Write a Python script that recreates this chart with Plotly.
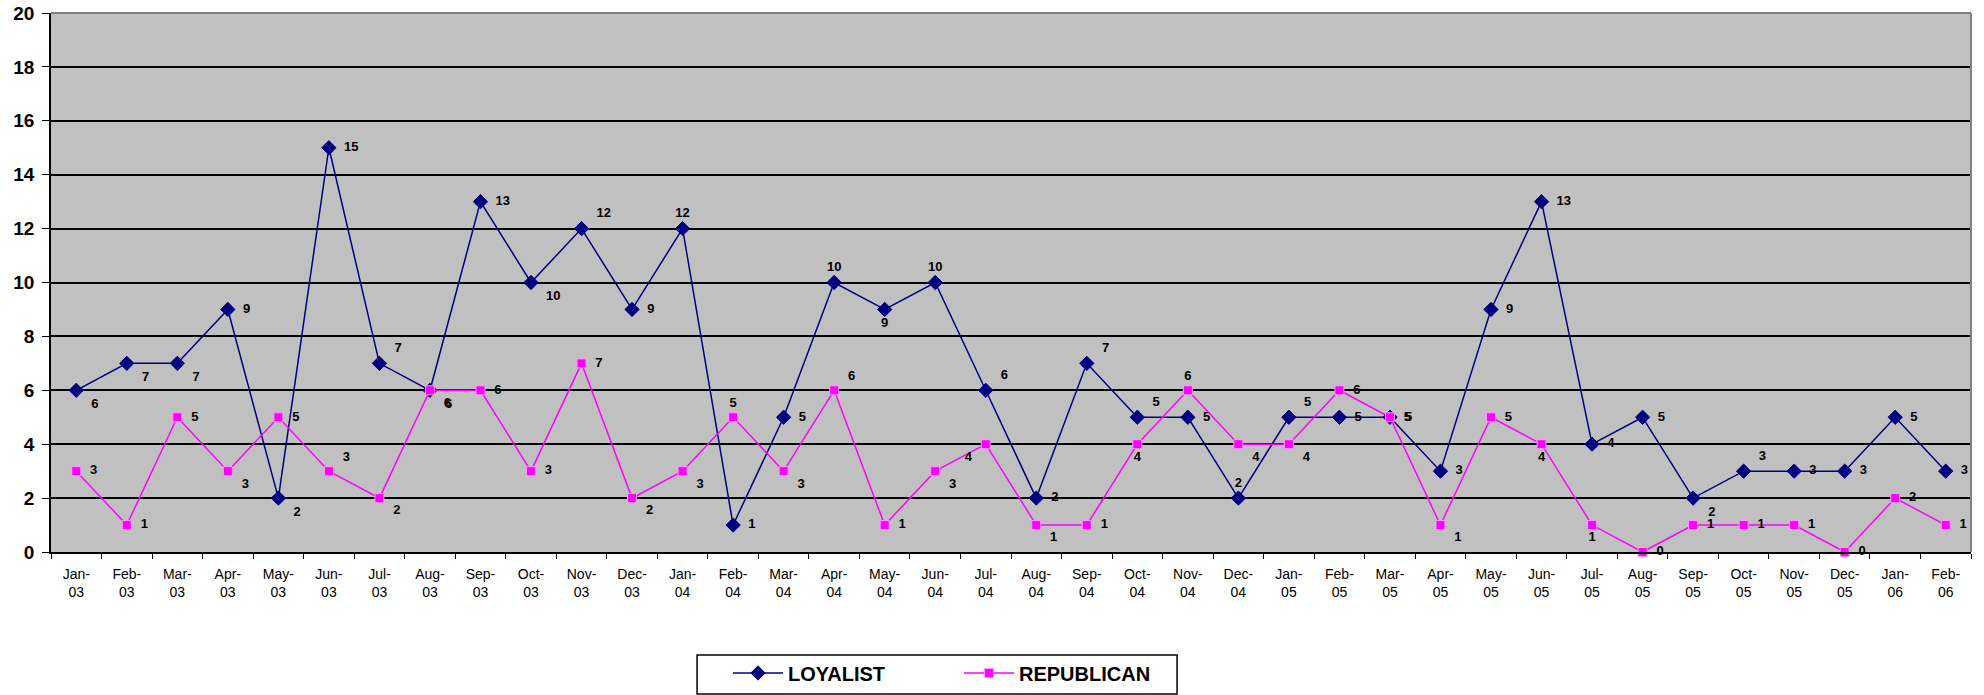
import plotly.graph_objects as go

months = ["Jan-<br>03", "Feb-<br>03", "Mar-<br>03", "Apr-<br>03", "May-<br>03", "Jun-<br>03",
          "Jul-<br>03", "Aug-<br>03", "Sep-<br>03", "Oct-<br>03", "Nov-<br>03", "Dec-<br>03",
          "Jan-<br>04", "Feb-<br>04", "Mar-<br>04", "Apr-<br>04", "May-<br>04", "Jun-<br>04",
          "Jul-<br>04", "Aug-<br>04", "Sep-<br>04", "Oct-<br>04", "Nov-<br>04", "Dec-<br>04",
          "Jan-<br>05", "Feb-<br>05", "Mar-<br>05", "Apr-<br>05", "May-<br>05", "Jun-<br>05",
          "Jul-<br>05", "Aug-<br>05", "Sep-<br>05", "Oct-<br>05", "Nov-<br>05", "Dec-<br>05",
          "Jan-<br>06", "Feb-<br>06"]

loyalist = [6, 7, 7, 9, 2, 15, 7, 6, 13, 10, 12, 9,
            12, 1, 5, 10, 9, 10, 6, 2, 7, 5, 5, 2,
            5, 5, 5, 3, 9, 13, 4, 5, 2, 3, 3, 3,
            5, 3]

republican = [3, 1, 5, 3, 5, 3, 2, 6, 6, 3, 7, 2,
              3, 5, 3, 6, 1, 3, 4, 1, 1, 4, 6, 4,
              4, 6, 5, 1, 5, 4, 1, 0, 1, 1, 1, 0,
              2, 1]

BR, R, TR, B, T, BL, TL, TC = ("bottom right", "middle right", "top right", "bottom center",
                               "top center", "bottom left", "top left", "top center")

loy_pos = [BR, BR, BR, R, BR, R, TR, BR, R, BR, TR, R,
           T, R, R, T, B, T, TR, R, TR, TR, R, TC,
           TR, R, R, R, R, R, R, R, BR, TR, R, R,
           R, R]
rep_pos = [R, R, R, BR, R, TR, BR, BR, R, R, R, BR,
           BR, T, BR, TR, R, BR, BL, BR, R, B, T, BR,
           BR, R, R, BR, R, B, B, R, R, R, R, R,
           R, R]

label_font = dict(family="Liberation Sans, Arial", size=13, color="black", weight="bold")

fig = go.Figure()
fig.add_trace(go.Scatter(
    x=months, y=loyalist, name="LOYALIST", mode="lines+markers+text",
    line=dict(color="#000080", width=1.5),
    marker=dict(symbol="diamond", size=11, color="#000080", line=dict(color="#000080", width=1)),
    text=["  " + str(v) + "  " for v in loyalist], textposition=loy_pos, textfont=label_font,
    cliponaxis=False,
))
fig.add_trace(go.Scatter(
    x=months, y=republican, name="REPUBLICAN", mode="lines+markers+text",
    line=dict(color="#FF00FF", width=1.5),
    marker=dict(symbol="square", size=9, color="#FF00FF", line=dict(color="#FF99FF", width=1)),
    text=["  " + str(v) + "  " for v in republican], textposition=rep_pos, textfont=label_font,
    cliponaxis=False,
))

fig.update_layout(
    width=1984, height=695,
    margin=dict(l=51, r=13, t=13, b=143, autoexpand=False),
    paper_bgcolor="white",
    plot_bgcolor="#C0C0C0",
    showlegend=True,
    legend=dict(
        orientation="h", x=0.3526, y=-0.2245, xanchor="left", yanchor="middle",
        borderwidth=0, bgcolor="rgba(0,0,0,0)",
        font=dict(family="Liberation Sans, Arial", size=20, color="black", weight="bold"),
        entrywidth=166, entrywidthmode="pixels",
        itemwidth=50,
    ),
    xaxis=dict(
        type="category", range=[-0.5, len(months) - 0.5],
        tickson="boundaries", ticks="outside", ticklen=5,
        tickcolor="black", showgrid=False, showline=True, linecolor="black", linewidth=1.5,
        tickfont=dict(family="Liberation Sans, Arial", size=14, color="black"),
        tickangle=0, ticklabelstandoff=8,
    ),
    yaxis=dict(
        range=[0, 20], dtick=2, ticks="outside", ticklen=7, tickcolor="black",
        showgrid=True, gridcolor="black", gridwidth=1.5,
        showline=True, linecolor="black", linewidth=1.5, zeroline=False,
        tickfont=dict(family="Liberation Sans, Arial", size=19, color="black", weight="bold"),
        ticklabelstandoff=4,
    ),
    shapes=[
        dict(type="line", xref="paper", yref="paper", x0=0, x1=1, y0=1, y1=1,
             line=dict(color="#808080", width=2)),
        dict(type="line", xref="paper", yref="paper", x0=1, x1=1, y0=0, y1=1,
             line=dict(color="#808080", width=2)),
        dict(type="rect", xref="paper", yref="paper", x0=0.3365, x1=0.5865, y0=-0.2635, y1=-0.1911,
             line=dict(color="black", width=1.5), fillcolor="white"),
    ],
)

fig.write_html("out.html")
